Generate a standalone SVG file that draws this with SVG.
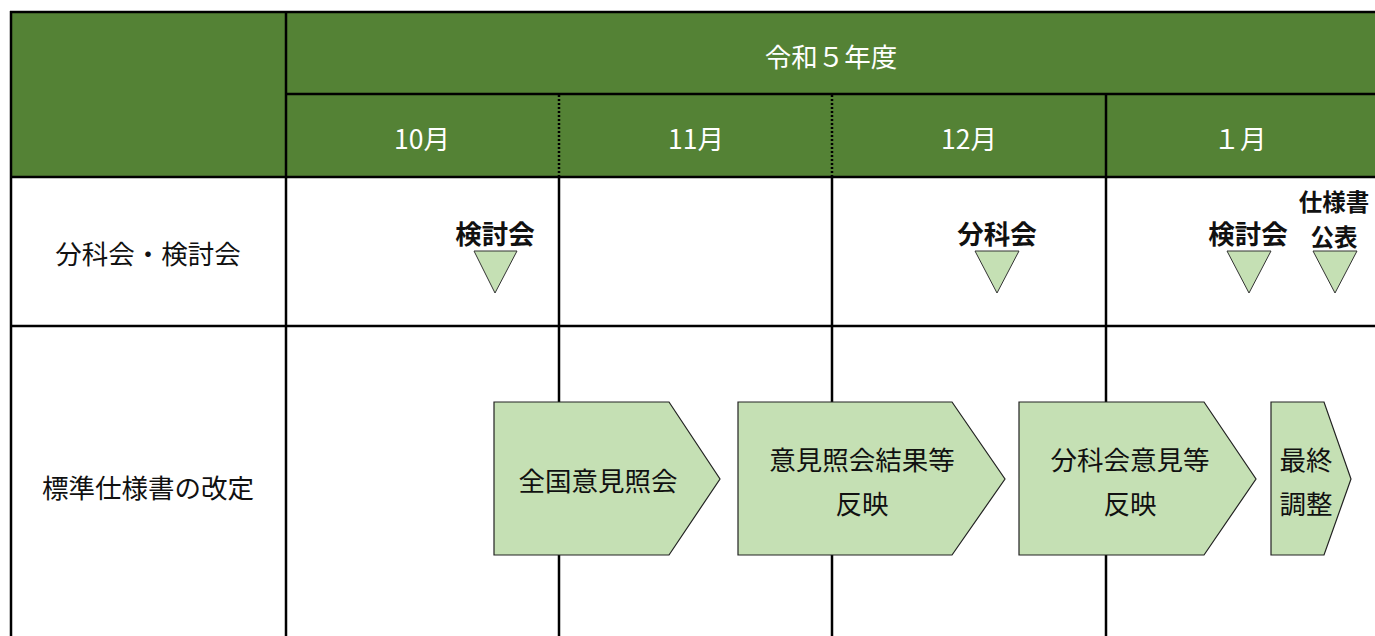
<svg xmlns="http://www.w3.org/2000/svg" width="1375" height="636" viewBox="0 0 1375 636">
<style>
text{font-family:"Noto Sans CJK JP","Noto Sans",sans-serif;font-size:26.5px;text-anchor:middle;dominant-baseline:central}
.w{fill:#ffffff}
.k{fill:#111111}
.b{font-weight:bold;font-size:26.5px}
.s{font-size:23.5px}
.grid{stroke:#000;stroke-width:2.5;fill:none}
.dot{stroke:#000;stroke-width:2.5;stroke-dasharray:2 2;fill:none}
.tri{fill:#C5E0B4;stroke:#333;stroke-width:1}
.pent{fill:#C5E0B4;stroke:#222;stroke-width:1.2}
</style>
<rect x="0" y="0" width="1375" height="636" fill="#ffffff"/>
<g id="header">
<rect x="11" y="12" width="1364" height="165" fill="#548235"/>
<text class="w" x="831" y="55">令和５年度</text>
<text class="w" x="422" y="137">10月</text>
<text class="w" x="696" y="137">11月</text>
<text class="w" x="969" y="137">12月</text>
<text class="w" x="1240" y="137">１月</text>
</g>
<g id="grid">
<line class="grid" x1="10" y1="12" x2="1375" y2="12"/>
<line class="grid" x1="286" y1="94" x2="1375" y2="94"/>
<line class="grid" x1="10" y1="177" x2="1375" y2="177"/>
<line class="grid" x1="10" y1="326" x2="1375" y2="326"/>
<line class="grid" x1="11" y1="11" x2="11" y2="636"/>
<line class="grid" x1="286" y1="11" x2="286" y2="636"/>
<line class="dot" x1="559" y1="95" x2="559" y2="176"/>
<line class="dot" x1="832" y1="95" x2="832" y2="176"/>
<line class="grid" x1="559" y1="177" x2="559" y2="636"/>
<line class="grid" x1="832" y1="177" x2="832" y2="636"/>
<line class="grid" x1="1106" y1="94" x2="1106" y2="636"/>
</g>
<g id="row-labels">
<text class="k" x="148" y="252">分科会・検討会</text>
<text class="k" x="148" y="486">標準仕様書の改定</text>
</g>
<g id="m1">
<text class="k b" x="495" y="232">検討会</text>
<polygon class="tri" points="474,251 517,251 495,293"/>
</g>
<g id="m2">
<text class="k b" x="997" y="232">分科会</text>
<polygon class="tri" points="975,251 1019,251 997,293"/>
</g>
<g id="m3">
<text class="k b" x="1248" y="232">検討会</text>
<polygon class="tri" points="1227,251 1271,251 1249,293"/>
</g>
<g id="m4">
<text class="k b s" x="1334" y="201">仕様書</text>
<text class="k b s" x="1334" y="235.5">公表</text>
<polygon class="tri" points="1313,251 1357,251 1335,293"/>
</g>
<g id="p1">
<polygon class="pent" points="494,402 669,402 720,479 669,555 494,555"/>
<text class="k" x="598" y="479">全国意見照会</text>
</g>
<g id="p2">
<polygon class="pent" points="738,402 952,402 1005,479 952,555 738,555"/>
<text class="k" x="862" y="458">意見照会結果等</text>
<text class="k" x="862" y="502">反映</text>
</g>
<g id="p3">
<polygon class="pent" points="1019,402 1204,402 1256,479 1204,555 1019,555"/>
<text class="k" x="1130" y="458">分科会意見等</text>
<text class="k" x="1130" y="502">反映</text>
</g>
<g id="p4">
<polygon class="pent" points="1271,402 1324,402 1351,479 1324,555 1271,555"/>
<text class="k" x="1306" y="458">最終</text>
<text class="k" x="1306" y="502">調整</text>
</g>
</svg>
